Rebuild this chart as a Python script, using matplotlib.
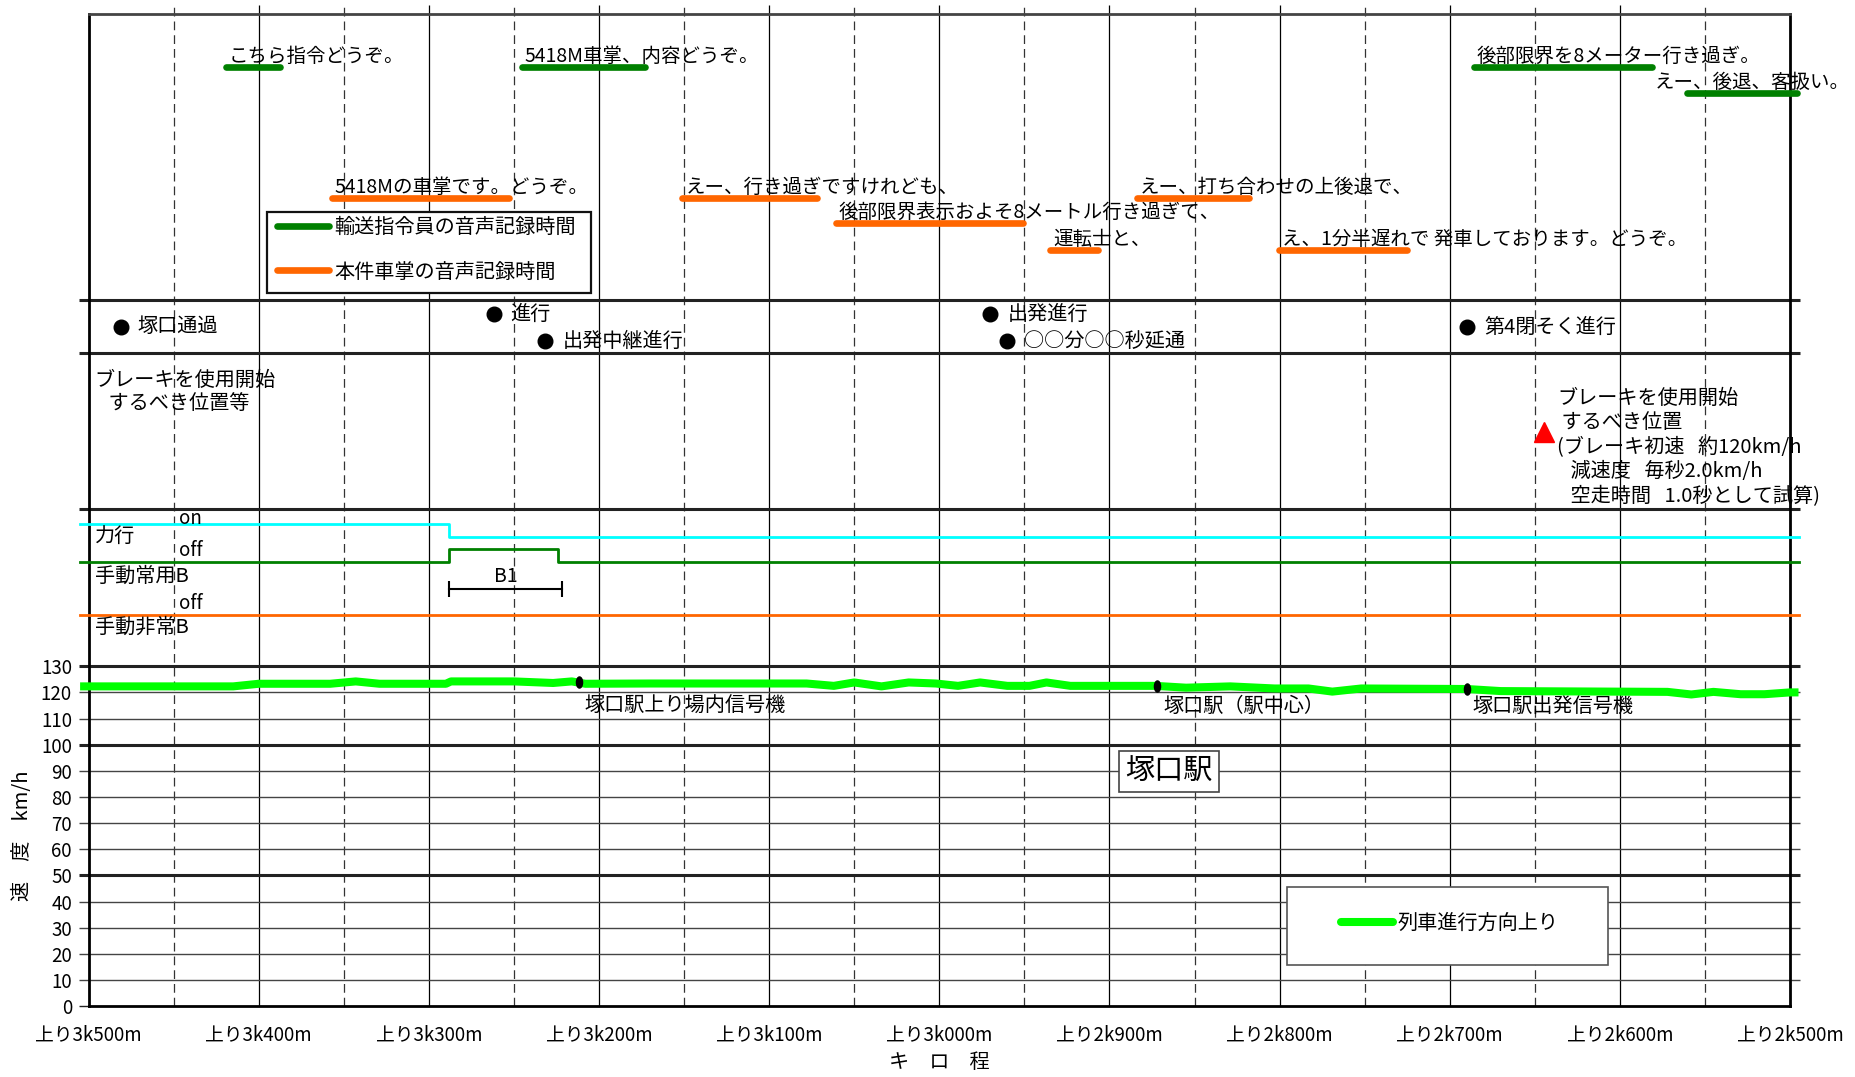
import matplotlib
matplotlib.use("Agg")
import matplotlib.pyplot as plt
import numpy as np
from matplotlib.patches import Rectangle
from matplotlib.path import Path
from matplotlib.transforms import Affine2D, blended_transform_factory

plt.rcParams['font.family'] = ['Noto Sans CJK JP', 'DejaVu Sans']

# ---- data ----
km_ticks = [3500, 3400, 3300, 3200, 3100, 3000, 2900, 2800, 2700, 2600, 2500]
km_labels = ["上り3k500m", "上り3k400m", "上り3k300m", "上り3k200m", "上り3k100m", "上り3k000m",
             "上り2k900m", "上り2k800m", "上り2k700m", "上り2k600m", "上り2k500m"]
speed_ticks = [0, 10, 20, 30, 40, 50, 60, 70, 80, 90, 100, 110, 120, 130]

speed_km = [3505, 3415, 3400, 3358, 3343, 3329, 3290, 3287, 3250, 3227,
            3216, 3208, 3170, 3078, 3062, 3050, 3034, 3018, 3002, 2989,
            2976, 2960, 2947, 2937, 2923, 2873, 2855, 2829, 2803, 2783,
            2769, 2752, 2690, 2670, 2572, 2558, 2545, 2529, 2515, 2500, 2495]
speed_kmh = [122.3, 122.3, 123.3, 123.3, 124.2, 123.3, 123.3, 124.2, 124.2, 123.6,
             124.2, 123.3, 123.4, 123.4, 122.5, 123.8, 122.3, 123.8, 123.4, 122.5,
             123.8, 122.5, 122.5, 123.8, 122.5, 122.5, 121.8, 122.3, 121.5, 121.5,
             120.3, 121.5, 121.3, 120.5, 120.2, 119.2, 120.2, 119.3, 119.3, 120.0, 120.0]

signal_km = [3212, 2872, 2690]
signal_kmh = [123.8, 122.5, 121.3]
signal_names = ["塚口駅上り場内信号機", "塚口駅（駅中心）", "塚口駅出発信号機"]

station_name = "塚口駅"
station_km = 2865

event_km = [3481, 3262, 3231.5, 2970, 2960.5, 2689.7]
event_names = ["塚口通過", "進行", "出発中継進行", "出発進行", "○○分○○秒延通", "第4閉そく進行"]
event_row = [1, 0, 2, 0, 2, 1]

# voice records (start km, end km, text)
disp_start = [3419, 3245.5, 2686, 2560.5]
disp_end = [3387.5, 3173, 2581, 2496]
disp_text = ["こちら指令どうぞ。", "5418M車掌、内容どうぞ。", "後部限界を8メーター行き過ぎ。", "えー、後退、客扱い。"]
disp_row = [0, 0, 0, 1]

cond_start = [3357, 3151, 3061, 2935, 2884, 2800.5]
cond_end = [3253, 3072, 2951, 2906.5, 2818, 2725]
cond_text = ["5418Mの車掌です。どうぞ。", "えー、行き過ぎですけれども、", "後部限界表示およそ8メートル行き過ぎて、",
             "運転士と、", "えー、打ち合わせの上後退で、", "え、1分半遅れで 発車しております。どうぞ。"]
cond_row = [0, 0, 1, 2, 0, 2]

# notch states (1 = on)
power_km = [3505, 3288, 2495]
power_state = [1, 0, 0]
service_km = [3505, 3288, 3224, 2495]
service_state = [0, 1, 0, 0]
emerg_km = [3505, 2495]
emerg_state = [0, 0]
b1_km = [3288, 3222]

brake_km = 2644.6

# ---- layout ----
Y_TOP = 379.5
X_LEFT_EXT = 3505.6
X_RIGHT_EXT = 2494.4
thick_levels = [50, 100, 130, 190, 250, 270]
thin_levels = [10, 20, 30, 40, 60, 70, 80, 90, 110, 120]
disp_rows = [359.3, 349.2]
cond_rows = [309.3, 299.5, 289.3]
event_rows = [264.7, 259.8, 254.4]
disp_dx = [2, 3, 3, -32]
SIGNAL_LABEL_Y = 114.5

GREEN = "#008000"
ORANGE = "#FF6600"
LIME = "#00FF00"
CYAN = "#00FFFF"
FS = 14.5

fig = plt.figure(figsize=(18.56, 10.77), dpi=100)
ax = fig.add_axes([0.04774, 0.06583, 0.91670, 0.92117])
ax.set_xlim(3500, 2500)
ax.set_ylim(0, Y_TOP)

for s in ["left", "right", "bottom"]:
    ax.spines[s].set_linewidth(2.0)
    ax.spines[s].set_color("black")
ax.spines["top"].set_linewidth(2.0)
ax.spines["top"].set_color("#444444")

ax.set_xticks(km_ticks)
ax.set_xticklabels(km_labels)
ax.set_yticks(speed_ticks)
ax.tick_params(axis="x", length=0, pad=13, labelsize=13.5)
ax.tick_params(axis="y", length=0, pad=12, labelsize=13.5)

# grid
ax.vlines(km_ticks[1:-1], 0, Y_TOP + 3.4, colors="black", lw=0.9, zorder=1, clip_on=False)
ax.vlines(np.arange(3450, 2500, -100), 0, Y_TOP + 3.4, colors="#333333", lw=0.9,
          linestyles=(0, (7, 4)), zorder=1, clip_on=False)
ax.hlines(thin_levels, X_LEFT_EXT, X_RIGHT_EXT, colors="#444444", lw=1.0, zorder=1, clip_on=False)
ax.hlines(thick_levels, X_LEFT_EXT, X_RIGHT_EXT, colors="#222222", lw=2.2, zorder=2, clip_on=False)
ax.hlines([0], X_LEFT_EXT, 3500, colors="#222222", lw=1.0, zorder=1, clip_on=False)

# speed curve
speed_line, = ax.plot(speed_km, speed_kmh, color=LIME, lw=5.8, solid_capstyle="butt",
                      zorder=4, clip_on=False, label="列車進行方向上り")
ellipse = Path.unit_circle().transformed(Affine2D().scale(0.55, 1.0))
ax.plot(signal_km, signal_kmh, linestyle="none", marker=ellipse, ms=8, color="black", zorder=5)
for k, name in zip(signal_km, signal_names):
    ax.annotate(name, (k, SIGNAL_LABEL_Y), xytext=(6, 0), textcoords="offset pixels",
                fontsize=FS, ha="left", va="center")

ax.text(station_km, 89.7, station_name, fontsize=21, ha="center", va="center", zorder=6,
        bbox=dict(boxstyle="square,pad=0.2", fc="white", ec="#444444", lw=1.2))

# notch lanes
ax.step(power_km, 179.5 + 5 * np.array(power_state), where="post", color=CYAN, lw=2.0,
        zorder=3, clip_on=False)
ax.step(service_km, 169.7 + 5 * np.array(service_state), where="post", color=GREEN, lw=2.0,
        zorder=3, clip_on=False)
ax.step(emerg_km, 149.6 + 5 * np.array(emerg_state), where="post", color=ORANGE, lw=2.0,
        zorder=3, clip_on=False)
ax.plot(b1_km, [159.6, 159.6], color="black", lw=1.5, marker="|", ms=12, mew=1.5, zorder=3)
ax.text(np.mean(b1_km), 164.2, "B1", fontsize=14, ha="center", va="center")

lane_x = 3496.5
ax.text(lane_x, 179.3, "力行", fontsize=FS, va="center")
ax.text(lane_x, 164.3, "手動常用B", fontsize=FS, va="center")
ax.text(lane_x, 144.9, "手動非常B", fontsize=FS, va="center")
ax.text(3447, 186.6, "on", fontsize=13.5, va="center")
ax.text(3447, 174.1, "off", fontsize=13.5, va="center")
ax.text(3447, 154.1, "off", fontsize=13.5, va="center")

# brake point
ax.plot([brake_km], [219.6], linestyle="none", marker="^", ms=14, color="red", zorder=5)
left_note = ["ブレーキを使用開始", "   するべき位置等"]
for i, t in enumerate(left_note):
    ax.text(lane_x, 239.5 - i * 8.9, t, fontsize=FS, va="center")
right_note = ["ブレーキを使用開始", " するべき位置", "(ブレーキ初速   約120km/h",
              "   減速度   毎秒2.0km/h", "   空走時間   1.0秒として試算)"]
for i, t in enumerate(right_note):
    ax.text(2637, 232.6 - i * 9.43, t, fontsize=FS, va="center", clip_on=False)

# signal events
ax.plot(event_km, [event_rows[r] for r in event_row], linestyle="none", marker="o", ms=10.5,
        color="black", zorder=5)
for k, r, name in zip(event_km, event_row, event_names):
    ax.annotate(name, (k, event_rows[r]), xytext=(17, 0), textcoords="offset pixels",
                fontsize=FS, ha="left", va="center")

# voice records
disp_handle = None
for s, e, r, t, dx in zip(disp_start, disp_end, disp_row, disp_text, disp_dx):
    y = disp_rows[r]
    ln, = ax.plot([s, e], [y, y], color=GREEN, lw=4.8, solid_capstyle="round", zorder=4, clip_on=False)
    if disp_handle is None:
        disp_handle = ln
    ax.annotate(t, (s, y), xytext=(dx, 5), textcoords="offset pixels", fontsize=14,
                ha="left", va="baseline", annotation_clip=False)
cond_handle = None
for s, e, r, t in zip(cond_start, cond_end, cond_row, cond_text):
    y = cond_rows[r]
    ln, = ax.plot([s, e], [y, y], color=ORANGE, lw=4.8, solid_capstyle="round", zorder=4, clip_on=False)
    if cond_handle is None:
        cond_handle = ln
    ax.annotate(t, (s, y), xytext=(3, 5), textcoords="offset pixels", fontsize=14,
                ha="left", va="baseline", annotation_clip=False)

# legends
ax.add_patch(Rectangle((0.1046, 0.7186), 0.1905, 0.0822, transform=ax.transAxes, fc="white",
                       ec="#111111", lw=1.6, zorder=5, clip_on=False))
leg1 = ax.legend([disp_handle, cond_handle], ["輸送指令員の音声記録時間", "本件車掌の音声記録時間"],
                 loc="center left", bbox_to_anchor=(0.1106, 0.7622), frameon=False, fontsize=FS,
                 handlelength=2.6, handletextpad=0.25, labelspacing=1.15, borderpad=0, borderaxespad=0)
leg1.set_zorder(6)
ax.add_artist(leg1)

ax.add_patch(Rectangle((0.7042, 0.0416), 0.1891, 0.0780, transform=ax.transAxes, fc="white",
                       ec="#555555", lw=1.2, zorder=5, clip_on=False))
leg2 = ax.legend([speed_line], ["列車進行方向上り"], loc="center left", bbox_to_anchor=(0.7361, 0.0835),
                 frameon=False, fontsize=FS, handlelength=2.6, handletextpad=0.2,
                 borderpad=0, borderaxespad=0)
leg2.get_lines()[0].set_solid_capstyle("round")
leg2.set_zorder(6)

# axis titles
trans = blended_transform_factory(ax.transAxes, ax.transData)
ax.text(-0.0386, 65, "速　度　km/h", transform=trans, rotation=90, fontsize=FS,
        ha="center", va="center")
fig.text(939 / 1856, 1 - 1063 / 1077, "キ　ロ　程", fontsize=FS, ha="center", va="center")

fig.savefig("out.png", dpi=100)
